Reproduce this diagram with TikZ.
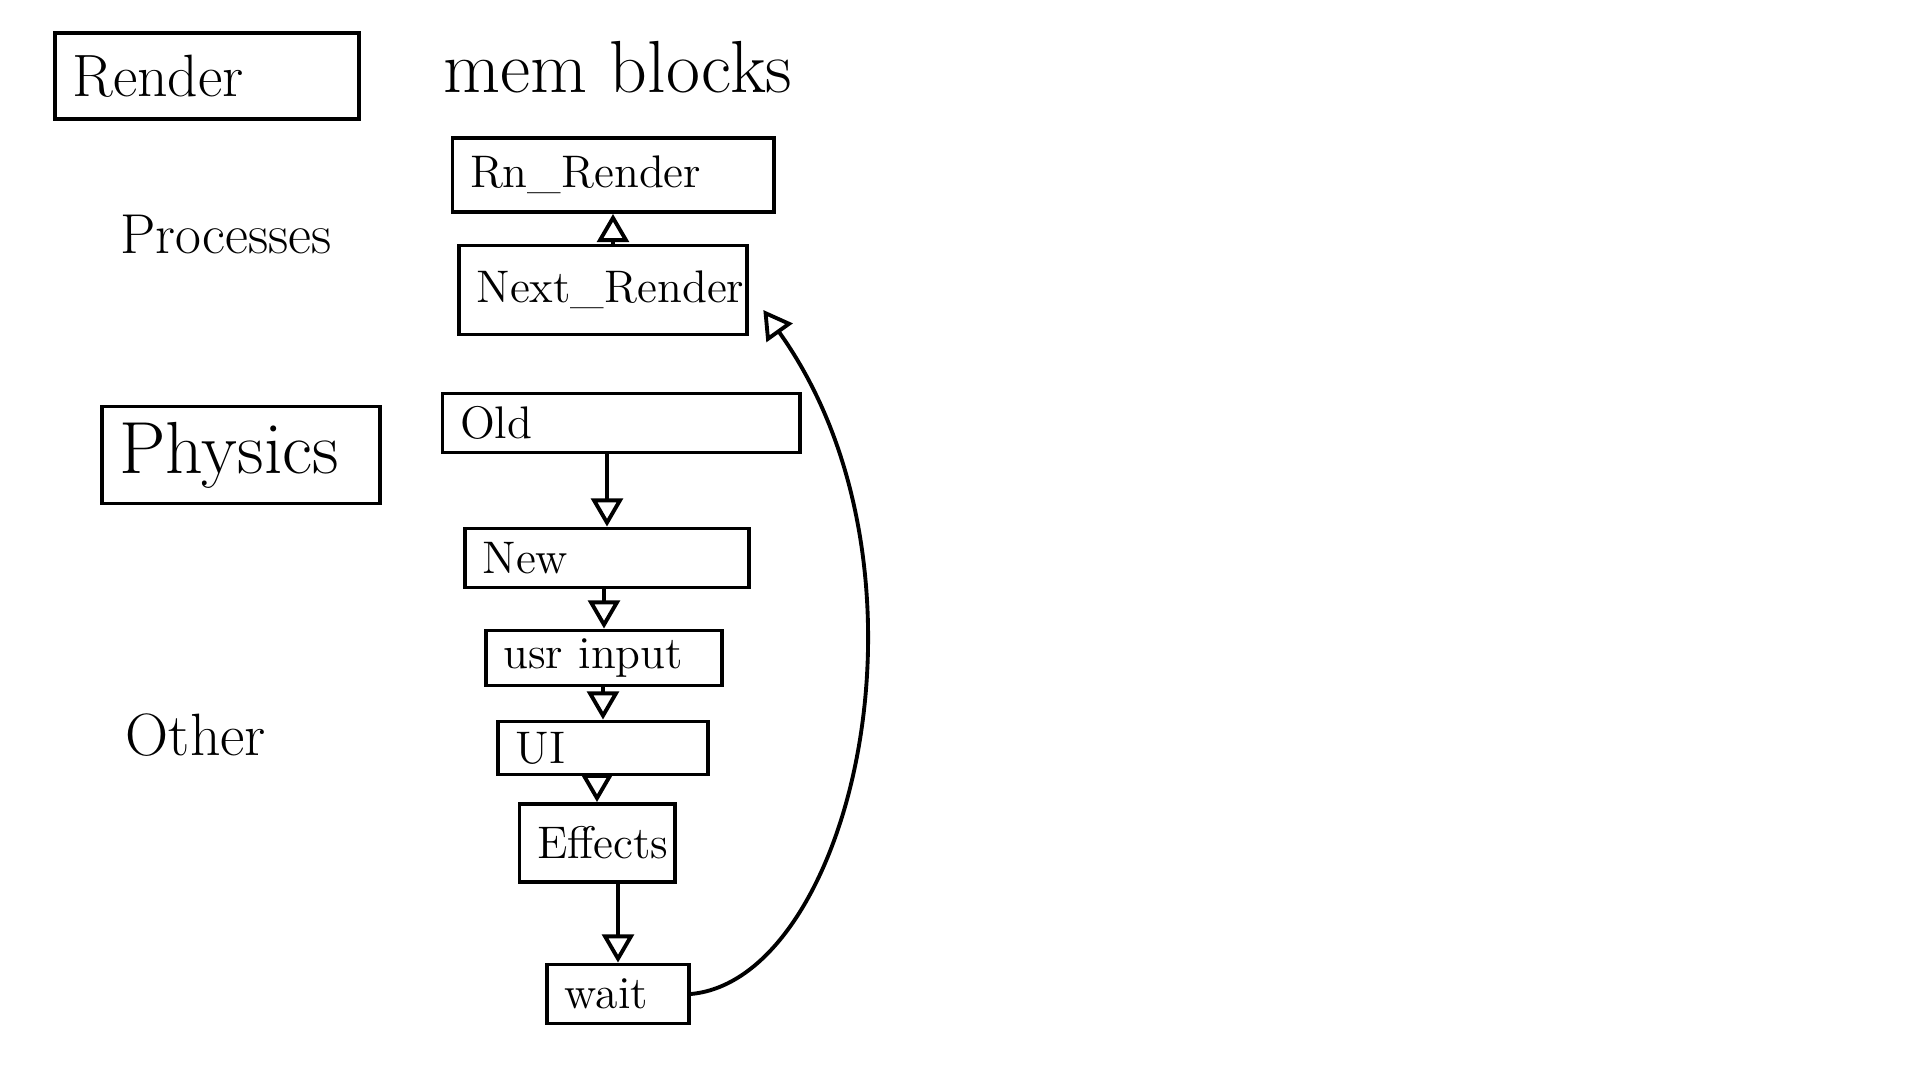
\documentclass[tikz,border=0pt]{standalone}
\usepackage{tikz}
\usetikzlibrary{arrows.meta, positioning}

\tikzset{
  memblock/.style={rectangle, draw, line width=1.1pt, align=left, inner xsep=5pt, inner ysep=2pt,
    font=\fontsize{13}{16}\selectfont},
  heading/.style={font=\fontsize{18}{22}\selectfont},
  flow/.style={-{Triangle[open, length=8pt, width=9pt]}, line width=1.1pt}
}

\begin{document}
\begin{tikzpicture}
  \useasboundingbox (0,0) rectangle (19.2,10.8);

  % Process column
  \node (render) [memblock, text width=2.69cm, minimum height=0.86cm,
    font=\fontsize{17}{20}\selectfont] at (2.07,10.04) {Render};
  \node (processes) [heading, font=\fontsize{16}{20}\selectfont] at (2.26,8.45) {Processes};
  \node (physics) [memblock, text width=2.43cm, minimum height=0.97cm,
    font=\fontsize{21}{25}\selectfont] at (2.41,6.25) {Physics};
  \node (other) [heading, font=\fontsize{17}{20}\selectfont] at (1.96,3.45) {Other};

  % Mem blocks column
  \node (memblocks) [heading, font=\fontsize{21}{25}\selectfont] at (6.18,10.13) {mem blocks};
  \node (rnrender) [memblock, text width=2.86cm, minimum height=0.74cm] at (6.13,9.05) {Rn\_Render};
  \node (nextrender) [memblock, text width=2.53cm, minimum height=0.89cm] at (6.03,7.90) {Next\_Render};
  \node (old) [memblock, text width=3.22cm, minimum height=0.59cm] at (6.21,6.57) {Old};
  \node (new) [memblock, text width=2.49cm, minimum height=0.59cm] at (6.07,5.22) {New};
  \node (usrinput) [memblock, text width=2.01cm, minimum height=0.55cm] at (6.04,4.22) {usr input};
  \node (ui) [memblock, text width=1.75cm, minimum height=0.53cm] at (6.03,3.32) {UI};
  \node (effects) [memblock, text width=1.20cm, minimum height=0.78cm] at (5.97,2.37) {Effects};
  \node (wait) [memblock, text width=1.07cm, minimum height=0.59cm] at (6.18,0.86) {wait};

  % Flow
  \draw[flow] (nextrender.north -| rnrender) -- (rnrender);
  \draw[flow] (old.south -| new) -- (new);
  \draw[flow] (new.south -| usrinput) -- (usrinput);
  \draw[flow] (usrinput.south -| ui) -- (ui);
  \draw[flow] (ui.south -| effects) -- (effects);
  \draw[flow] (effects.south -| wait) -- (wait);

  % Loop back
  \draw[flow, shorten >=7pt] (wait.east) .. controls +(1.6,0.15) and +(2.0,-2.8) .. (nextrender.east);
\end{tikzpicture}
\end{document}
